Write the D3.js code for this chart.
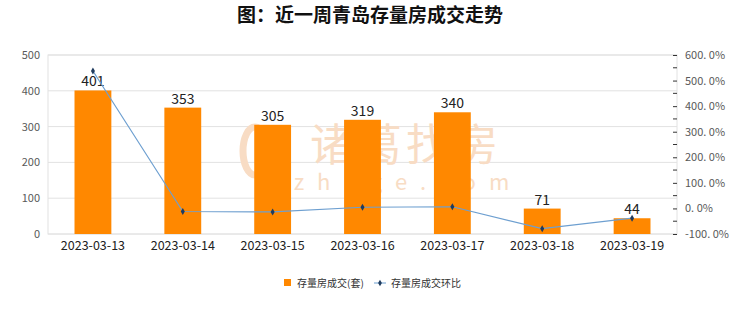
<!DOCTYPE html>
<html>
<head>
<meta charset="utf-8">
<script src="https://cdn.jsdelivr.net/npm/d3@7"></script>
<style>
  body { margin: 0; background: #fff; }
  text { font-family: "Noto Sans CJK SC", "DejaVu Sans", sans-serif; }
</style>
</head>
<body>
<svg id="chart"></svg>
<script>
const dates = ['2023-03-13', '2023-03-14', '2023-03-15', '2023-03-16', '2023-03-17', '2023-03-18', '2023-03-19'];
const deals = [401, 353, 305, 319, 340, 71, 44];
const ratio = [537.5, -12.0, -13.6, 4.6, 6.6, -79.1, -38.0];
const leftTicks = [0, 100, 200, 300, 400, 500];
const rightTicks = [-100, 0, 100, 200, 300, 400, 500, 600];

const width = 740, height = 312;
const margin = { top: 55, right: 63, bottom: 78, left: 48 };
const innerW = width - margin.left - margin.right;
const innerH = height - margin.top - margin.bottom;

const svg = d3.select('#chart').attr('width', width).attr('height', height);

svg.append('text')
  .attr('x', width / 2).attr('y', 22)
  .attr('text-anchor', 'middle')
  .attr('font-size', 19).attr('font-weight', 'bold').attr('fill', '#111')
  .text('图：近一周青岛存量房成交走势');

const g = svg.append('g').attr('transform', `translate(${margin.left},${margin.top})`);

const x = d3.scaleBand().domain(dates).range([0, innerW]);
const y = d3.scaleLinear().domain([0, 500]).range([innerH, 0]);
const y2 = d3.scaleLinear().domain([-100, 600]).range([innerH, 0]);

// grid + frame
g.selectAll('.grid').data(leftTicks).enter().append('line')
  .attr('x1', 0).attr('x2', innerW)
  .attr('y1', d => y(d)).attr('y2', d => y(d))
  .attr('stroke', '#e2e2e2');
g.append('rect').attr('width', innerW).attr('height', innerH)
  .attr('fill', 'none').attr('stroke', '#e2e2e2');

// watermark (behind bars)
const wmColor = '#f8dcc4';
const wm = g.append('g');
wm.append('text').attr('x', 358).attr('y', 106).attr('text-anchor', 'middle')
  .attr('font-size', 44).attr('fill', wmColor)
  .attr('letter-spacing', 4).text('诸葛找房');
wm.append('text').attr('x', 360).attr('y', 135).attr('text-anchor', 'middle')
  .attr('font-size', 22).attr('fill', wmColor)
  .attr('letter-spacing', 13).text('zhuge.com');
wm.append('ellipse').attr('cx', 207).attr('cy', 96).attr('rx', 12).attr('ry', 24)
  .attr('fill', 'none').attr('stroke', wmColor).attr('stroke-width', 7);

// bars
const bw = x.bandwidth() * 0.41;
g.selectAll('.bar').data(deals).enter().append('rect')
  .attr('x', (d, i) => x(dates[i]) + (x.bandwidth() - bw) / 2)
  .attr('y', d => y(d))
  .attr('width', bw)
  .attr('height', d => innerH - y(d))
  .attr('fill', '#ff8800');

g.selectAll('.lbl').data(deals).enter().append('text')
  .attr('x', (d, i) => x(dates[i]) + x.bandwidth() / 2)
  .attr('y', d => y(d) - 4)
  .attr('text-anchor', 'middle')
  .attr('font-size', 14).attr('fill', '#222')
  .attr('font-family', 'DejaVu Sans')
  .text(d => d);

// line
const line = d3.line()
  .x((d, i) => x(dates[i]) + x.bandwidth() / 2)
  .y(d => y2(d));
g.append('path').datum(ratio)
  .attr('d', line).attr('fill', 'none')
  .attr('stroke', '#6d9fd0').attr('stroke-width', 1.2);
g.selectAll('.pt').data(ratio).enter().append('path')
  .attr('d', d3.symbol().type(d3.symbolDiamond).size(14))
  .attr('transform', (d, i) => `translate(${x(dates[i]) + x.bandwidth() / 2},${y2(d)})`)
  .attr('fill', '#1f3b5e');

// left axis
const yAxis = g.append('g')
  .call(d3.axisLeft(y).tickValues(leftTicks).tickSize(0).tickPadding(8));
yAxis.select('.domain').remove();
yAxis.selectAll('text').attr('font-size', 11).attr('fill', '#595959')
  .attr('font-family', 'Liberation Sans');

// right axis
const minor = d3.range(-50, 600, 100);
g.selectAll('.minor').data(minor).enter().append('line')
  .attr('x1', innerW - 4).attr('x2', innerW)
  .attr('y1', d => y2(d)).attr('y2', d => y2(d))
  .attr('stroke', '#333');
const y2Axis = g.append('g').attr('transform', `translate(${innerW},0)`)
  .call(d3.axisRight(y2).tickValues(rightTicks).tickSizeInner(-4).tickSizeOuter(0).tickPadding(8)
    .tickFormat(d => d.toFixed(1).replace('.', '. ') + '%'));
y2Axis.select('.domain').remove();
y2Axis.selectAll('line').attr('stroke', '#333');
y2Axis.selectAll('text').attr('font-size', 11).attr('fill', '#595959')
  .attr('font-family', 'Liberation Sans').attr('xml:space', 'preserve');

// x axis
const xAxis = g.append('g').attr('transform', `translate(0,${innerH})`)
  .call(d3.axisBottom(x).tickSize(0).tickPadding(7));
xAxis.select('.domain').remove();
xAxis.selectAll('text').attr('font-size', 12.5).attr('fill', '#222')
  .attr('font-family', 'DejaVu Sans');

// legend
const lg = svg.append('g').attr('transform', 'translate(284,283)');
lg.append('rect').attr('x', 0).attr('y', -4).attr('width', 7).attr('height', 7).attr('fill', '#ff8800');
lg.append('text').attr('x', 13).attr('y', 3.5).attr('font-size', 10).attr('fill', '#333')
  .text('存量房成交(套)');
lg.append('line').attr('x1', 90).attr('x2', 102).attr('y1', 0).attr('y2', 0)
  .attr('stroke', '#6d9fd0');
lg.append('path').attr('d', d3.symbol().type(d3.symbolDiamond).size(12))
  .attr('transform', 'translate(96,0)').attr('fill', '#1f3b5e');
lg.append('text').attr('x', 107).attr('y', 3.5).attr('font-size', 10).attr('fill', '#333')
  .text('存量房成交环比');
</script>
</body>
</html>
